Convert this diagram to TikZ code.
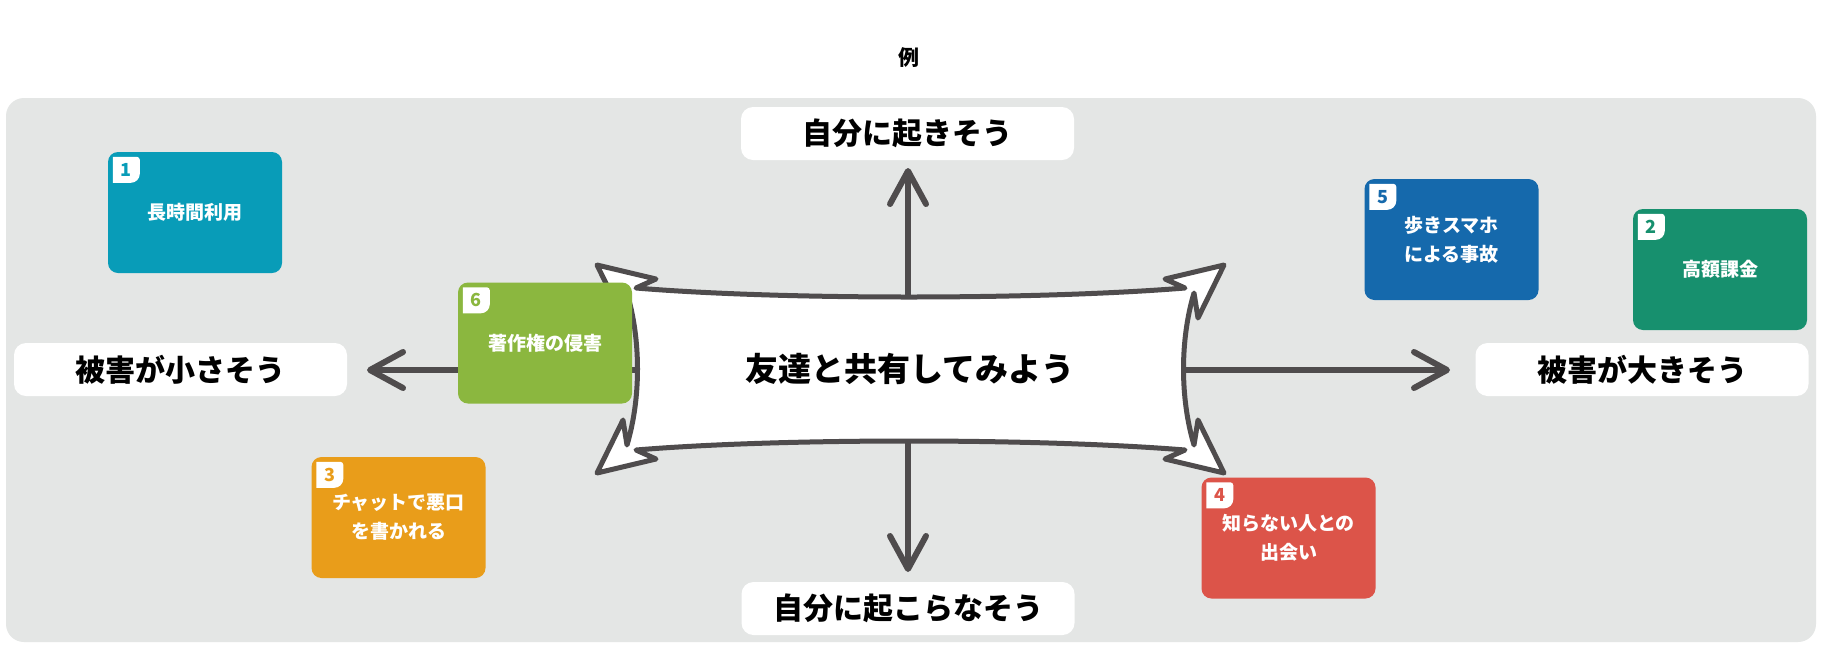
\documentclass[tikz,border=0pt]{standalone}
\usepackage{fontspec}
\setmainfont{Noto Sans CJK JP}
\usetikzlibrary{arrows.meta,calc}
\definecolor{panel}{HTML}{E4E6E5}
\definecolor{axisc}{HTML}{4F4C4D}
\definecolor{cA}{HTML}{089CB8}
\definecolor{cB}{HTML}{17906E}
\definecolor{cC}{HTML}{E99D1A}
\definecolor{cD}{HTML}{DC5449}
\definecolor{cE}{HTML}{1569AC}
\definecolor{cF}{HTML}{8BB73F}
\newcommand\mybadge[3]{%
  \fill[white] ($(#1.north west)+(5,5)$) [rounded corners=3pt] -- ($(#1.north west)+(32,5)$)
     [rounded corners=9pt] -- ($(#1.north west)+(32,31)$) [sharp corners] -- ($(#1.north west)+(5,31)$) -- cycle;
  \node[badgetext,text=#3] (#1n) at ($(#1.north west)+(18.5,18)$) {#2};
}
\begin{document}
\begin{tikzpicture}[x=1pt,y=-1pt,
  labelbox/.style={fill=white,rounded corners=12pt,minimum width=333pt,minimum height=53pt,inner sep=0pt,
     font=\fontsize{30}{36}\selectfont\bfseries},
  card/.style={rounded corners=10pt,minimum width=174pt,minimum height=121pt,inner sep=0pt,text=white,
     align=center,font=\fontsize{19}{29}\selectfont\bfseries},
  badgetext/.style={inner sep=0pt,font=\fontsize{18}{18}\selectfont\bfseries},
  axisline/.style={draw=axisc,line width=6pt,line cap=round,
     -{Straight Barb[length=33pt,width=36pt,line cap=round,line join=round]}},
  banner/.style={draw=axisc,fill=white,line width=5pt,line join=round}]
\useasboundingbox (0,0) rectangle (1828,654);
\fill[white] (0,0) rectangle (1828,654);
\fill[panel, rounded corners=18pt] (6,98) rectangle (1816,642);
\node[font=\fontsize{21}{21}\selectfont\bfseries] (title) at (909,58) {例};
% axis labels
\node[labelbox] (top) at (907.5,133.5) {自分に起きそう};
\node[labelbox] (bot) at (908,608.5) {自分に起こらなそう};
\node[labelbox] (lft) at (180.5,369.5) {被害が小さそう};
\node[labelbox] (rgt) at (1642,369.5) {被害が大きそう};
% axes
\coordinate (ctr) at (908,370);
\coordinate (tT) at (908,168);
\coordinate (tB) at (908,572);
\coordinate (tL) at (367,370);
\coordinate (tR) at (1450,370);
\draw[axisline] (ctr) -- (tT);
\draw[axisline] (ctr) -- (tB);
\draw[axisline] (ctr) -- (tL);
\draw[axisline] (ctr) -- (tR);
% banner
\path[banner] (597,265) -- (656,279) -- (636,288)
  .. controls (780,300) and (1037,300) .. (1185,288)
  -- (1165,279) -- (1224,265) -- (1198,318) -- (1194,293)
  .. controls (1180,340) and (1180,398) .. (1194,445)
  -- (1198,420) -- (1224,473) -- (1165,459) -- (1185,450)
  .. controls (1037,438) and (780,438) .. (636,450)
  -- (656,459) -- (597,473) -- (623,420) -- (627,445)
  .. controls (641,398) and (641,340) .. (627,293)
  -- (623,318) -- cycle;
\node[font=\fontsize{33}{40}\selectfont\bfseries] (ban) at (910,369) {友達と共有してみよう};
% cards
\node[card,fill=cA] (c1) at (195,212.5) {長時間利用};
\node[card,fill=cB] (c2) at (1720,269.5) {高額課金};
\node[card,fill=cC] (c3) at (398.5,517.5) {チャットで悪口\\を書かれる};
\node[card,fill=cD] (c4) at (1288.5,538) {知らない人との\\出会い};
\node[card,fill=cE] (c5) at (1451.5,239.5) {歩きスマホ\\による事故};
\node[card,fill=cF] (c6) at (545,343) {著作権の侵害};
\mybadge{c1}{1}{cA}
\mybadge{c2}{2}{cB}
\mybadge{c3}{3}{cC}
\mybadge{c4}{4}{cD}
\mybadge{c5}{5}{cE}
\mybadge{c6}{6}{cF}
\end{tikzpicture}
\end{document}
